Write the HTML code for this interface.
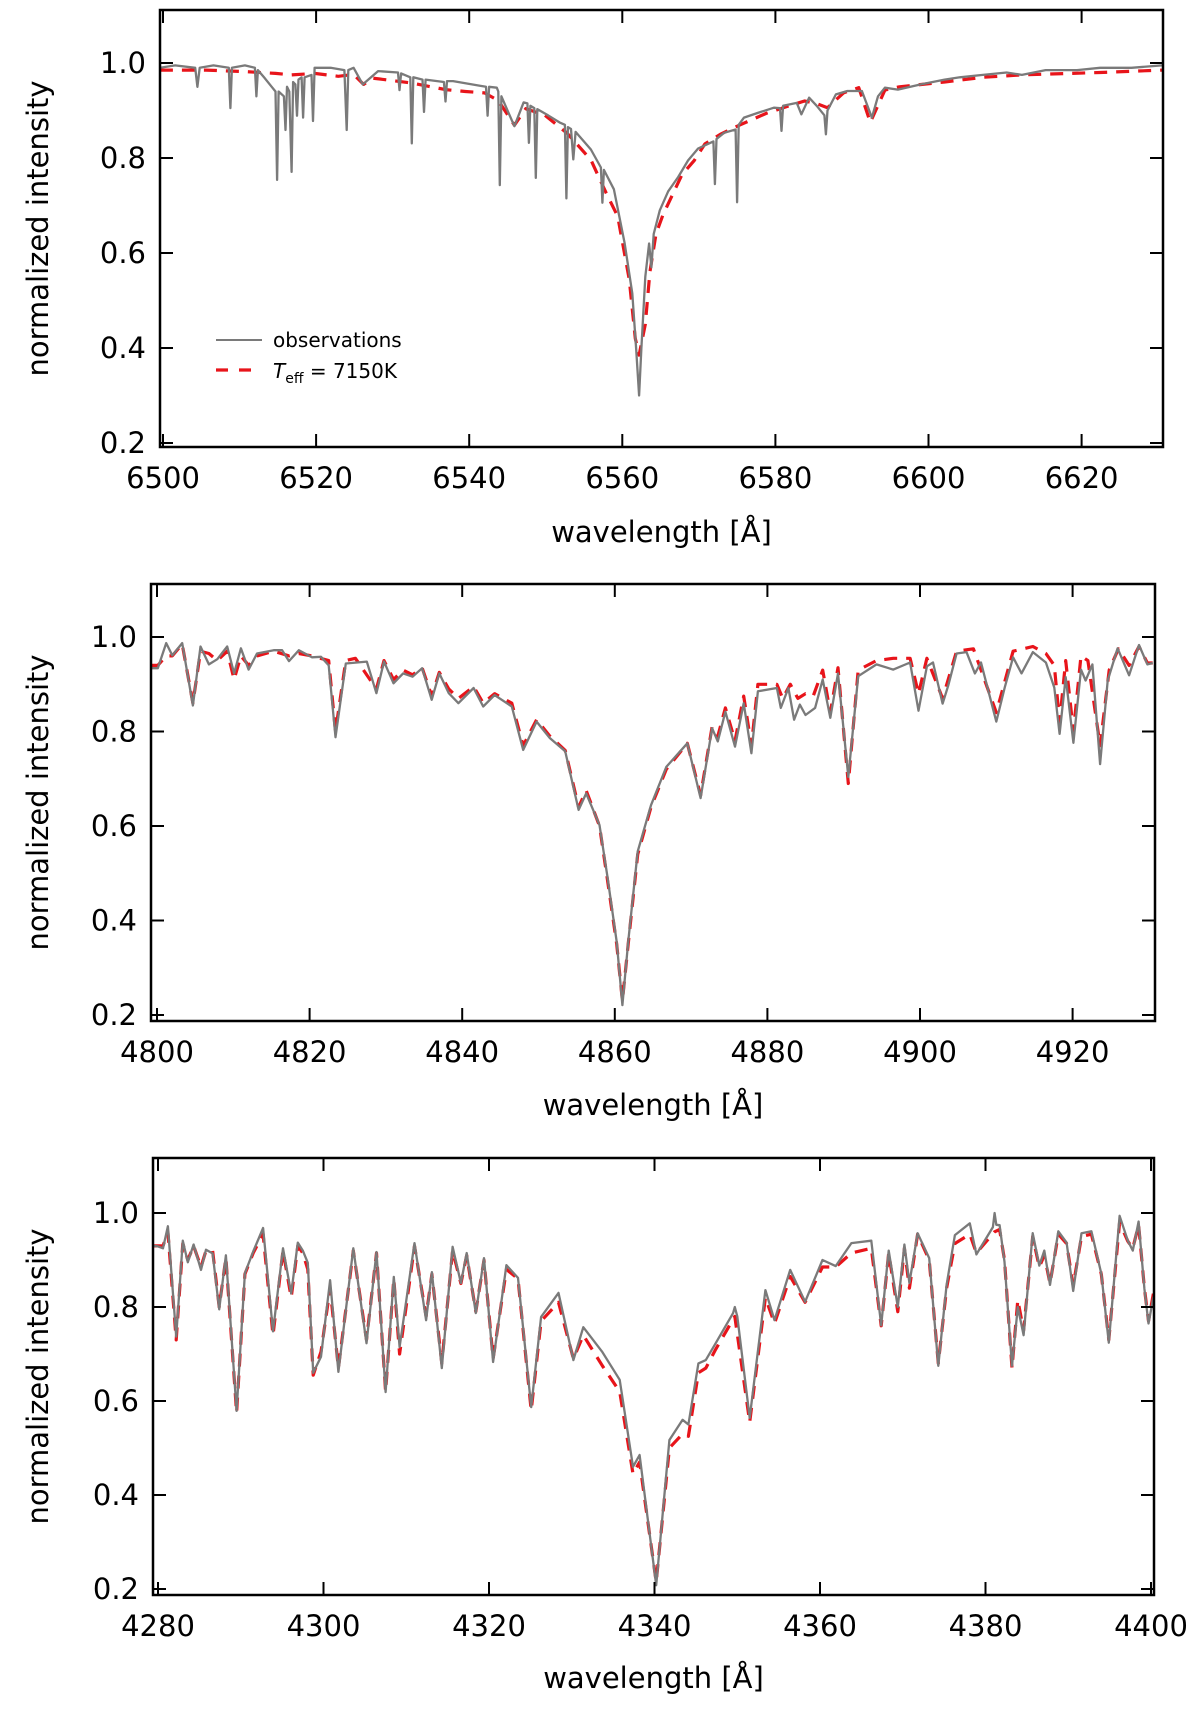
<!DOCTYPE html>
<html><head><meta charset="utf-8">
<style>
html,body{margin:0;padding:0;background:#fff;}
svg{display:block;font-family:"DejaVu Sans","Liberation Sans",sans-serif;}
</style></head>
<body>
<svg id="fig" width="1200" height="1712" viewBox="0 0 1200 1712" xmlns="http://www.w3.org/2000/svg"></svg>
<script>
// ---------- data: H-alpha panel ----------
const haXTicks = [6500,6520,6540,6560,6580,6600,6620];
const yTicks = [0.2,0.4,0.6,0.8,1.0];
const yTickLabels = ["0.2","0.4","0.6","0.8","1.0"];
const haObs = [[6499.6,0.99],[6501.6,0.995],[6504.2,0.99],[6504.5,0.95],[6504.8,0.99],[6506.6,0.995],[6508.6,0.99],[6508.8,0.905],[6509.0,0.99],[6510.7,0.995],[6512.0,0.99],[6512.2,0.93],[6512.4,0.985],[6513.2,0.97],[6514.2,0.95],[6514.7,0.94],[6514.9,0.754],[6515.1,0.94],[6515.8,0.93],[6516.0,0.859],[6516.2,0.95],[6516.5,0.94],[6516.8,0.771],[6517.0,0.96],[6517.3,0.955],[6517.5,0.889],[6517.7,0.965],[6518.1,0.97],[6518.3,0.885],[6518.5,0.97],[6519.4,0.975],[6519.6,0.878],[6519.8,0.99],[6521.9,0.99],[6523.7,0.985],[6524.0,0.859],[6524.2,0.985],[6524.9,0.99],[6526.1,0.955],[6528.1,0.983],[6530.7,0.98],[6530.9,0.943],[6531.1,0.978],[6532.3,0.97],[6532.5,0.831],[6532.7,0.97],[6533.9,0.965],[6534.1,0.897],[6534.3,0.965],[6536.7,0.96],[6536.9,0.919],[6537.1,0.962],[6537.9,0.962],[6541.4,0.952],[6542.2,0.95],[6542.4,0.889],[6542.6,0.95],[6543.6,0.948],[6543.8,0.94],[6544.0,0.743],[6544.2,0.93],[6545.0,0.9],[6545.9,0.867],[6547.1,0.917],[6547.6,0.915],[6547.8,0.832],[6548.0,0.91],[6548.5,0.905],[6548.7,0.758],[6548.9,0.903],[6550.3,0.89],[6551.8,0.875],[6552.5,0.87],[6552.7,0.715],[6552.9,0.865],[6553.3,0.861],[6553.6,0.797],[6553.9,0.855],[6555.9,0.818],[6557.2,0.78],[6557.4,0.706],[6557.6,0.775],[6558.9,0.734],[6560.3,0.621],[6561.3,0.515],[6561.8,0.40],[6562.2,0.30],[6562.5,0.40],[6563.0,0.55],[6563.5,0.62],[6563.8,0.57],[6564.1,0.64],[6564.9,0.69],[6566.0,0.73],[6567.3,0.76],[6568.6,0.795],[6569.9,0.82],[6571.9,0.835],[6572.1,0.745],[6572.3,0.84],[6573.3,0.853],[6574.8,0.86],[6575.0,0.707],[6575.2,0.87],[6575.9,0.885],[6577.7,0.895],[6579.8,0.906],[6580.6,0.905],[6580.8,0.857],[6581.0,0.91],[6582.8,0.916],[6583.4,0.892],[6584.4,0.927],[6585.4,0.91],[6586.4,0.89],[6586.6,0.85],[6586.8,0.9],[6587.9,0.934],[6589.4,0.941],[6591.3,0.941],[6592.6,0.885],[6593.4,0.93],[6594.3,0.948],[6596.0,0.944],[6599.0,0.955],[6602.1,0.965],[6604.1,0.97],[6607.1,0.975],[6610.2,0.98],[6612.2,0.975],[6615.3,0.985],[6619.4,0.985],[6622.4,0.99],[6626.5,0.99],[6630.5,0.995]];
const haModel = [[6499.6,0.985],[6505.6,0.985],[6510.7,0.982],[6514.7,0.978],[6516.8,0.975],[6519.8,0.978],[6522.9,0.972],[6524.9,0.976],[6526.2,0.955],[6527.4,0.968],[6529.5,0.964],[6532.4,0.958],[6536.9,0.944],[6539.5,0.94],[6542.0,0.937],[6543.8,0.921],[6545.9,0.869],[6547.4,0.904],[6549.9,0.89],[6552.8,0.852],[6555.9,0.796],[6557.9,0.726],[6559.4,0.677],[6560.9,0.545],[6561.7,0.42],[6562.2,0.385],[6563.0,0.45],[6563.6,0.56],[6564.4,0.64],[6565.3,0.68],[6567.8,0.765],[6569.4,0.795],[6570.8,0.83],[6572.8,0.85],[6575.4,0.87],[6578.8,0.894],[6581.8,0.91],[6583.8,0.92],[6585.3,0.915],[6586.8,0.906],[6588.9,0.937],[6590.9,0.948],[6592.4,0.875],[6594.3,0.943],[6596.2,0.95],[6602.1,0.96],[6607.1,0.97],[6612.2,0.975],[6622.4,0.98],[6630.5,0.985]];

// ---------- data: H-beta panel ----------
const hbXTicks = [4800,4820,4840,4860,4880,4900,4920];
const hbObs = [[4799.3,0.934],[4800.1,0.934],[4801.2,0.987],[4802,0.961],[4803.3,0.987],[4804.7,0.855],[4805.7,0.98],[4806.8,0.942],[4807.9,0.953],[4809.2,0.98],[4810.1,0.923],[4811,0.976],[4812,0.931],[4813.1,0.965],[4815.3,0.972],[4816.4,0.972],[4817.3,0.949],[4818.6,0.972],[4820.3,0.957],[4821.5,0.958],[4822.5,0.94],[4823.4,0.788],[4824.75,0.944],[4827.5,0.948],[4828.75,0.881],[4829.75,0.948],[4831,0.902],[4832.25,0.923],[4833.5,0.916],[4834.75,0.934],[4836,0.867],[4837,0.923],[4838.25,0.881],[4839.5,0.86],[4841.5,0.892],[4842.75,0.853],[4844.25,0.877],[4846.5,0.853],[4848,0.761],[4849.75,0.821],[4851.5,0.786],[4853.5,0.758],[4855.25,0.634],[4856.25,0.669],[4858,0.602],[4859,0.496],[4860.25,0.355],[4861,0.221],[4861.75,0.355],[4863,0.546],[4864.75,0.644],[4866.75,0.725],[4869.5,0.775],[4871.25,0.659],[4872.75,0.807],[4873.5,0.779],[4874.5,0.842],[4875.75,0.768],[4876.9,0.86],[4877.9,0.754],[4878.75,0.885],[4881.25,0.892],[4881.75,0.85],[4882.75,0.892],[4883.5,0.825],[4884.25,0.857],[4885,0.835],[4886.25,0.85],[4887.25,0.91],[4888.25,0.829],[4889.25,0.923],[4890.6,0.704],[4891.9,0.917],[4894.3,0.942],[4896.5,0.931],[4898.7,0.946],[4899.8,0.844],[4900.9,0.938],[4901.7,0.946],[4902.96,0.859],[4903.7,0.897],[4904.8,0.965],[4906.1,0.968],[4907.2,0.923],[4908,0.946],[4910,0.821],[4911.1,0.893],[4912.2,0.957],[4913.3,0.923],[4914.8,0.968],[4916.5,0.946],[4917.6,0.893],[4918.3,0.795],[4919.1,0.915],[4920.1,0.776],[4921.1,0.931],[4921.7,0.908],[4922.6,0.942],[4923.6,0.731],[4924.6,0.908],[4925.9,0.976],[4927.4,0.919],[4928.7,0.983],[4929.8,0.942],[4930.5,0.945]];
const hbModel = [[4799.3,0.94],[4800.1,0.94],[4801.2,0.96],[4802,0.96],[4803.3,0.985],[4804.7,0.86],[4805.7,0.97],[4806.8,0.965],[4807.9,0.95],[4809.2,0.97],[4810.1,0.91],[4811,0.96],[4812,0.94],[4813.1,0.96],[4815.3,0.97],[4817.3,0.96],[4818.6,0.965],[4820.3,0.96],[4822.5,0.95],[4823.4,0.80],[4824.75,0.95],[4826,0.955],[4828.75,0.89],[4829.75,0.95],[4831,0.91],[4832.25,0.93],[4833.5,0.92],[4834.75,0.935],[4836,0.875],[4837,0.925],[4838.25,0.89],[4839.5,0.87],[4841.5,0.895],[4842.75,0.86],[4844.25,0.88],[4846.5,0.86],[4848,0.77],[4849.75,0.825],[4851.5,0.79],[4853.5,0.76],[4855.25,0.64],[4856.25,0.675],[4858,0.6],[4859,0.49],[4860.25,0.35],[4861,0.23],[4861.75,0.35],[4863,0.54],[4864.75,0.64],[4866.75,0.72],[4869.5,0.775],[4871.25,0.665],[4872.75,0.81],[4873.5,0.79],[4874.5,0.85],[4875.75,0.78],[4876.9,0.875],[4877.9,0.77],[4878.75,0.9],[4881.25,0.9],[4882,0.87],[4883,0.9],[4884,0.87],[4885,0.88],[4886,0.875],[4887.25,0.93],[4888.25,0.84],[4889.25,0.935],[4890.6,0.69],[4891.9,0.93],[4894.3,0.95],[4896.5,0.955],[4898.7,0.955],[4899.8,0.88],[4900.9,0.955],[4902.96,0.87],[4904.8,0.97],[4907,0.975],[4910,0.84],[4912.2,0.97],[4914.8,0.98],[4916.5,0.965],[4917.6,0.94],[4918.3,0.82],[4919.1,0.95],[4920.1,0.80],[4921.1,0.96],[4922,0.95],[4923.6,0.77],[4924.8,0.93],[4926,0.975],[4927.4,0.94],[4928.7,0.98],[4929.8,0.945],[4930.5,0.945]];

// ---------- data: H-gamma panel ----------
const hgXTicks = [4280,4300,4320,4340,4360,4380,4400];
const hgObs = [[4279.5,0.93],[4280,0.929],[4280.6,0.925],[4281.2,0.972],[4282.2,0.737],[4283,0.941],[4283.6,0.895],[4284.3,0.933],[4285.2,0.879],[4285.8,0.922],[4286.6,0.914],[4287.4,0.795],[4288.2,0.91],[4289.5,0.579],[4290.5,0.872],[4291.5,0.918],[4292.7,0.968],[4293.9,0.748],[4295.1,0.925],[4296.1,0.829],[4296.9,0.937],[4297.5,0.92],[4298.1,0.894],[4298.75,0.66],[4299.7,0.694],[4300.8,0.857],[4301.8,0.662],[4303.6,0.925],[4305.2,0.723],[4306.4,0.917],[4307.5,0.619],[4308.5,0.864],[4309.2,0.715],[4311,0.936],[4312.4,0.772],[4313.1,0.874],[4314.3,0.67],[4315.6,0.928],[4316.6,0.851],[4317.3,0.915],[4318.4,0.787],[4319.4,0.904],[4320.5,0.683],[4322.1,0.889],[4323.5,0.862],[4325.1,0.587],[4326.3,0.779],[4328.4,0.83],[4330.2,0.687],[4331.4,0.757],[4333.7,0.704],[4335.8,0.645],[4337.4,0.46],[4338.2,0.485],[4340.2,0.208],[4341.8,0.517],[4343.4,0.56],[4344.1,0.55],[4345.3,0.68],[4346.2,0.687],[4347.4,0.723],[4349.5,0.787],[4349.7,0.80],[4350,0.78],[4351.5,0.564],[4353.4,0.836],[4354.5,0.772],[4356.4,0.879],[4358.2,0.811],[4360.3,0.9],[4361.9,0.887],[4363.8,0.936],[4366.2,0.941],[4367.4,0.761],[4368.3,0.92],[4369.4,0.80],[4370.2,0.933],[4370.8,0.851],[4371.8,0.957],[4373.2,0.904],[4374.3,0.675],[4375.3,0.847],[4376.3,0.953],[4378.1,0.978],[4378.9,0.912],[4380.9,0.97],[4381.1,1.0],[4381.3,0.975],[4381.7,0.974],[4382.3,0.896],[4383.2,0.675],[4383.9,0.80],[4384.6,0.74],[4385.7,0.957],[4386.5,0.888],[4387.1,0.92],[4387.8,0.847],[4388.8,0.961],[4389.8,0.937],[4390.6,0.834],[4391.6,0.957],[4392.8,0.961],[4394,0.871],[4394.9,0.724],[4396.2,0.994],[4397.2,0.941],[4397.8,0.92],[4398.5,0.982],[4399.2,0.839],[4399.7,0.765],[4400.3,0.822]];
const hgModel = [[4279.5,0.93],[4280,0.93],[4280.6,0.93],[4281.2,0.96],[4282.2,0.73],[4283,0.935],[4283.6,0.9],[4284.3,0.93],[4285.2,0.885],[4285.8,0.92],[4286.6,0.92],[4287.4,0.80],[4288.2,0.905],[4289.5,0.575],[4290.5,0.87],[4291.5,0.915],[4292.7,0.955],[4293.9,0.74],[4295.1,0.92],[4296.1,0.82],[4296.9,0.93],[4297.5,0.915],[4298.1,0.88],[4298.75,0.655],[4299.7,0.705],[4300.8,0.84],[4301.8,0.67],[4303.6,0.92],[4305.2,0.73],[4306.4,0.915],[4307.5,0.62],[4308.5,0.86],[4309.2,0.70],[4311,0.93],[4312.4,0.78],[4313.1,0.87],[4314.3,0.68],[4315.6,0.92],[4316.6,0.85],[4317.3,0.91],[4318.4,0.79],[4319.4,0.9],[4320.5,0.69],[4322.1,0.88],[4323.5,0.86],[4325.1,0.58],[4326.3,0.77],[4328.4,0.81],[4330.2,0.69],[4331.4,0.74],[4333.7,0.675],[4335.8,0.62],[4337.4,0.445],[4338.2,0.47],[4340.2,0.215],[4341.8,0.50],[4343.4,0.53],[4344.1,0.525],[4345.3,0.66],[4346.2,0.67],[4347.4,0.71],[4349.7,0.78],[4351.5,0.555],[4353.4,0.82],[4354.5,0.765],[4356.4,0.865],[4358.2,0.81],[4360.3,0.885],[4361.9,0.885],[4363.8,0.915],[4366.2,0.925],[4367.4,0.76],[4368.3,0.915],[4369.4,0.79],[4370.2,0.925],[4370.8,0.84],[4371.8,0.955],[4373.2,0.9],[4374.3,0.68],[4375.3,0.84],[4376.3,0.935],[4378.1,0.955],[4378.9,0.915],[4381.1,0.96],[4381.7,0.965],[4382.3,0.9],[4383.2,0.67],[4383.9,0.815],[4384.6,0.75],[4385.7,0.95],[4386.5,0.885],[4387.1,0.91],[4387.8,0.85],[4388.8,0.955],[4389.8,0.935],[4390.6,0.845],[4391.6,0.95],[4392.8,0.955],[4394,0.87],[4394.9,0.73],[4396.2,0.98],[4397.2,0.94],[4397.8,0.925],[4398.5,0.975],[4399.2,0.84],[4399.7,0.77],[4400.3,0.83]];

// ---------- drawing ----------
const NS = "http://www.w3.org/2000/svg";
const svg = document.getElementById('fig');
function mk(tag, attrs, parent){
  const e = document.createElementNS(NS, tag);
  for (const k in attrs) e.setAttribute(k, attrs[k]);
  (parent||svg).appendChild(e);
  return e;
}
const panels = [
  {id:'halpha', box:[160,10,1163,447], x0:6500, px0:163, pxPerUnit:7.655, y0:0.2, py0:443, pyPerUnit:475, ticks:haXTicks, obs:haObs, model:haModel, xlabY:478, titleY:532, legend:true},
  {id:'hbeta', box:[151,584,1155,1021], x0:4800, px0:157, pxPerUnit:7.63, y0:0.2, py0:1015, pyPerUnit:472.5, ticks:hbXTicks, obs:hbObs, model:hbModel, xlabY:1052, titleY:1105, legend:false},
  {id:'hgamma', box:[153,1158,1154,1595], x0:4280, px0:158, pxPerUnit:8.275, y0:0.2, py0:1589, pyPerUnit:470, ticks:hgXTicks, obs:hgObs, model:hgModel, xlabY:1626, titleY:1678, legend:false}
];

panels.forEach(p => {
  const [L,T,R,B] = p.box;
  const xs = w => p.px0 + (w - p.x0) * p.pxPerUnit;
  const ys = v => p.py0 - (v - p.y0) * p.pyPerUnit;
  const g = mk('g', {});
  
  
  const clipId = 'clip-' + p.id;
  const cp = mk('clipPath', {id: clipId}, g);
  mk('rect', {x:L, y:T, width:R-L, height:B-T}, cp);

  function series(data, name, stroke, width, dash){
    const d = data.map((pt,i)=> (i?'L':'M') + xs(pt[0]).toFixed(1) + ' ' + ys(pt[1]).toFixed(1)).join(' ');
    const path = mk('path', {d:d, fill:'none', stroke:stroke, 'stroke-width':width, 'stroke-linejoin':'round', 'clip-path':'url(#'+clipId+')'}, g);
    if (dash) path.setAttribute('stroke-dasharray', dash);
    
    
  }
  series(p.model, p.id + '-model-line', '#e8141a', 3.2, '13 9');
  series(p.obs, p.id + '-observed-line', '#7a7a7a', 2.3, null);

  const frame = mk('rect', {x:L, y:T, width:R-L, height:B-T, fill:'none', stroke:'#000', 'stroke-width':2.5}, g);
  
  

  p.ticks.forEach(t => {
    const x = xs(t);
    mk('line', {x1:x, y1:B, x2:x, y2:B-13, stroke:'#000', 'stroke-width':2}, g);
    mk('line', {x1:x, y1:T, x2:x, y2:T+13, stroke:'#000', 'stroke-width':2}, g);
    const tx = mk('text', {x:x, y:p.xlabY + 10, 'font-size':29, 'text-anchor':'middle', fill:'#000'}, g);
    tx.textContent = String(t);
    
    
  });
  yTicks.forEach((v,i) => {
    const y = ys(v);
    mk('line', {x1:L, y1:y, x2:L+13, y2:y, stroke:'#000', 'stroke-width':2}, g);
    mk('line', {x1:R, y1:y, x2:R-13, y2:y, stroke:'#000', 'stroke-width':2}, g);
    const ty = mk('text', {x:L-14, y:y + 10, 'font-size':29, 'text-anchor':'end', fill:'#000'}, g);
    ty.textContent = yTickLabels[i];
    
    
  });
  const xt = mk('text', {x:(L+R)/2, y:p.titleY + 10, 'font-size':29, 'text-anchor':'middle', fill:'#000'}, g);
  xt.textContent = 'wavelength [Å]';
  
  
  const cy = (T+B)/2;
  const yt = mk('text', {x:0, y:0, 'font-size':29, 'text-anchor':'middle', fill:'#000', transform:'translate(48 '+cy+') rotate(-90)'}, g);
  yt.textContent = 'normalized intensity';
  
  

  if (p.legend){
    const lg = mk('g', {}, g);
    
    
    mk('line', {x1:216, y1:340, x2:262, y2:340, stroke:'#7a7a7a', 'stroke-width':2}, lg);
    const t1 = mk('text', {x:273, y:347, 'font-size':20, fill:'#000'}, lg);
    t1.textContent = 'observations';
    
    
    mk('line', {x1:216, y1:370, x2:262, y2:370, stroke:'#e8141a', 'stroke-width':3.2, 'stroke-dasharray':'12 11'}, lg);
    const t2 = mk('text', {x:273, y:378, 'font-size':20, fill:'#000'}, lg);
    
    
    const s1 = mk('tspan', {'font-style':'italic'}, t2); s1.textContent = 'T';
    const s2 = mk('tspan', {'font-size':14, dy:5}, t2); s2.textContent = 'eff';
    const s3 = mk('tspan', {dy:-5}, t2); s3.textContent = ' = 7150K';
  }
});
</script>
</body></html>
